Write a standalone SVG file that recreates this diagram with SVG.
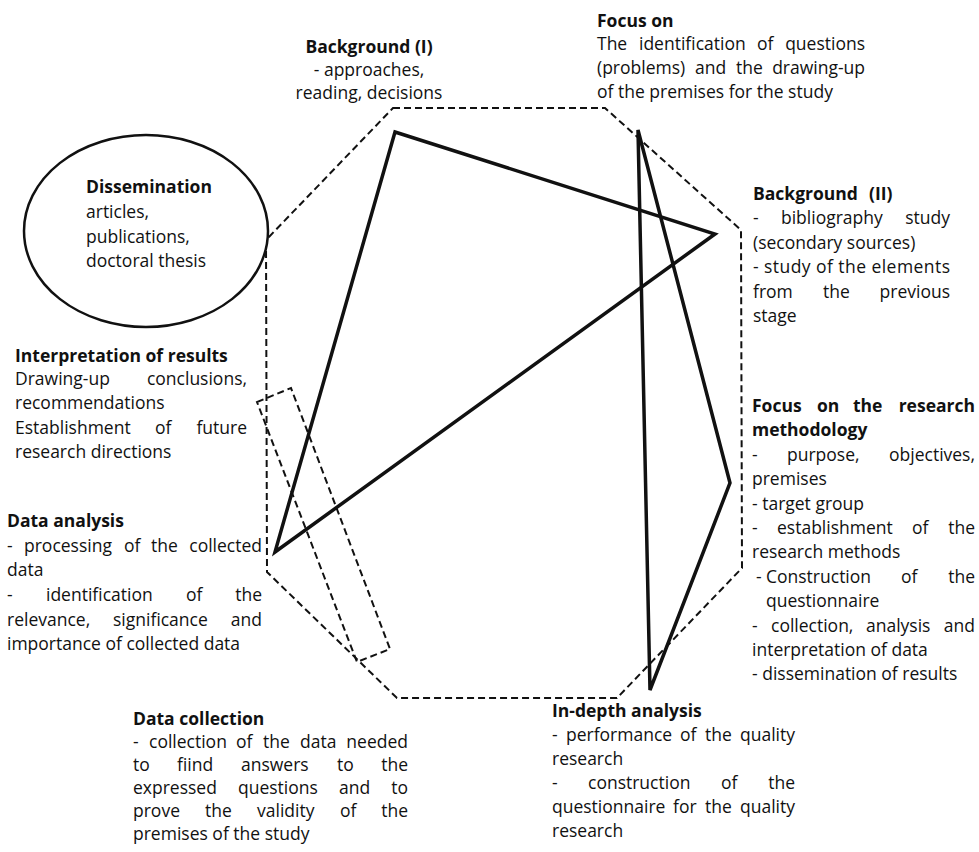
<svg xmlns="http://www.w3.org/2000/svg" width="979" height="852" viewBox="0 0 979 852">
<style>
text{font-family:"Open Sans","Liberation Sans",sans-serif;font-size:17.5px;fill:#111}
.b{font-weight:bold}
.e{text-anchor:end}
.m{text-anchor:middle}
.dash{fill:none;stroke:#111;stroke-width:2;stroke-dasharray:7 4}
.solid{fill:none;stroke:#111;stroke-width:3.5;stroke-linejoin:miter}
</style>
<rect width="979" height="852" fill="#fff"/>
<g id="frame">
<polygon class="dash" points="393,108 605,108 741,230 742,568 617,698 397,698 267,572 266,240"/>
<polygon class="dash" points="257,402 291,388 390,649 357,662"/>
</g>
<g id="connectors">
<polygon class="solid" points="395,132 715,234 275,552"/>
<polygon class="solid" points="638,130 730,483 650,690"/>
</g>
<g id="dissemination">
<ellipse cx="146" cy="231" rx="122" ry="96" fill="#fff" stroke="#111" stroke-width="2.5"/>
<text class="b" x="86" y="193">Dissemination</text>
<text x="86" y="218">articles,</text>
<text x="86" y="243">publications,</text>
<text x="86" y="267">doctoral thesis</text>
</g>
<g id="background1">
<text class="b m" x="369" y="53">Background (I)</text>
<text class="m" x="369" y="76">- approaches,</text>
<text class="m" x="369" y="99">reading, decisions</text>
</g>
<g id="focus">
<text class="b" x="597" y="27">Focus on</text>
<text x="597" y="50">The</text><text x="639" y="50">identification</text><text x="757" y="50">of</text><text class="e" x="865" y="50">questions</text>
<text x="597" y="74">(problems)</text><text x="695" y="74">and</text><text x="736" y="74">the</text><text class="e" x="865" y="74">drawing-up</text>
<text x="597" y="98">of the premises for the study</text>
</g>
<g id="background2">
<text class="b" x="753" y="200">Background</text><text class="b" x="869" y="200">(II)</text>
<text x="753" y="224">-</text><text x="781" y="224">bibliography</text><text class="e" x="950" y="224">study</text>
<text x="753" y="249">(secondary sources)</text>
<text x="753" y="273" textLength="197" lengthAdjust="spacing">- study of the elements</text>
<text x="753" y="298">from</text><text x="823" y="298">the</text><text class="e" x="950" y="298">previous</text>
<text x="753" y="322">stage</text>
</g>
<g id="methodology">
<text class="b" x="752" y="412">Focus</text><text class="b" x="817" y="412">on</text><text class="b" x="853" y="412">the</text><text class="b e" x="975" y="412">research</text>
<text class="b" x="752" y="436">methodology</text>
<text x="752" y="461">-</text><text x="787" y="461">purpose,</text><text class="e" x="975" y="461">objectives,</text>
<text x="752" y="485">premises</text>
<text x="752" y="510">- target group</text>
<text x="752" y="534">-</text><text x="777" y="534">establishment</text><text x="912" y="534">of</text><text class="e" x="975" y="534">the</text>
<text x="752" y="558">research methods</text>
<text x="756" y="583">-</text><text x="766" y="583">Construction</text><text x="901" y="583">of</text><text class="e" x="975" y="583">the</text>
<text x="766" y="607">questionnaire</text>
<text x="752" y="632">-</text><text x="771" y="632">collection,</text><text x="866" y="632">analysis</text><text class="e" x="975" y="632">and</text>
<text x="752" y="656">interpretation of data</text>
<text x="752" y="680">- dissemination of results</text>
</g>
<g id="indepth">
<text class="b" x="552" y="717">In-depth analysis</text>
<text x="552" y="741">-</text><text x="566" y="741">performance</text><text x="680" y="741">of</text><text x="705" y="741">the</text><text class="e" x="795" y="741">quality</text>
<text x="552" y="765">research</text>
<text x="552" y="789">-</text><text x="588" y="789">construction</text><text x="721" y="789">of</text><text class="e" x="795" y="789">the</text>
<text x="552" y="813">questionnaire</text><text x="673" y="813">for</text><text x="705" y="813">the</text><text class="e" x="795" y="813">quality</text>
<text x="552" y="837">research</text>
</g>
<g id="datacollection">
<text class="b" x="133" y="725">Data collection</text>
<text x="133" y="748">-</text><text x="149" y="748">collection</text><text x="236" y="748">of</text><text x="263" y="748">the</text><text x="300" y="748">data</text><text class="e" x="408" y="748">needed</text>
<text x="133" y="771">to</text><text x="177" y="771">fiind</text><text x="241" y="771">answers</text><text x="337" y="771">to</text><text class="e" x="408" y="771">the</text>
<text x="133" y="794">expressed</text><text x="238" y="794">questions</text><text x="339" y="794">and</text><text class="e" x="408" y="794">to</text>
<text x="133" y="817">prove</text><text x="205" y="817">the</text><text x="257" y="817">validity</text><text x="340" y="817">of</text><text class="e" x="408" y="817">the</text>
<text x="133" y="840">premises of the study</text>
</g>
<g id="dataanalysis">
<text class="b" x="7" y="527">Data analysis</text>
<text x="7" y="552">-</text><text x="24" y="552">processing</text><text x="124" y="552">of</text><text x="151" y="552">the</text><text class="e" x="262" y="552">collected</text>
<text x="7" y="576">data</text>
<text x="7" y="601">-</text><text x="46" y="601">identification</text><text x="186" y="601">of</text><text class="e" x="262" y="601">the</text>
<text x="7" y="626">relevance,</text><text x="113" y="626">significance</text><text class="e" x="262" y="626">and</text>
<text x="7" y="650">importance of collected data</text>
</g>
<g id="interpretation">
<text class="b" x="15" y="362">Interpretation of results</text>
<text x="15" y="385">Drawing-up</text><text class="e" x="247" y="385">conclusions,</text>
<text x="15" y="409">recommendations</text>
<text x="15" y="434">Establishment</text><text x="155" y="434">of</text><text class="e" x="247" y="434">future</text>
<text x="15" y="458">research directions</text>
</g>
</svg>
